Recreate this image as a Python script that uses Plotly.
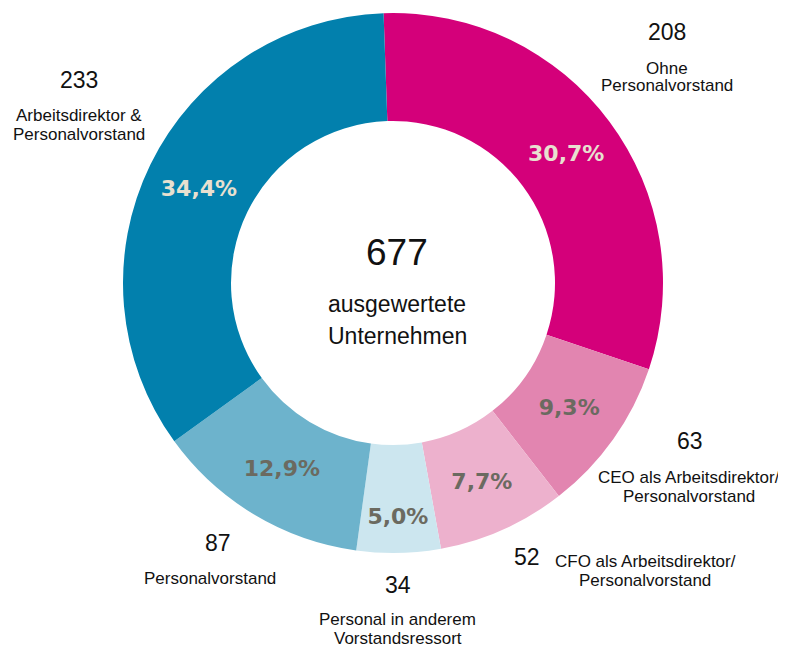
import plotly.graph_objects as go

# ---- data ----
categories = [
    "Ohne Personalvorstand",
    "CEO als Arbeitsdirektor/Personalvorstand",
    "CFO als Arbeitsdirektor/Personalvorstand",
    "Personal in anderem Vorstandsressort",
    "Personalvorstand",
    "Arbeitsdirektor & Personalvorstand",
]
counts = [208, 63, 52, 34, 87, 233]
label_lines = [
    ["Ohne", "Personalvorstand"],
    ["CEO als Arbeitsdirektor/", "Personalvorstand"],
    ["CFO als Arbeitsdirektor/", "Personalvorstand"],
    ["Personal in anderem", "Vorstandsressort"],
    ["Personalvorstand"],
    ["Arbeitsdirektor &", "Personalvorstand"],
]
total_label = ["ausgewertete", "Unternehmen"]

# ---- styles ----
colors = ["#D4007A", "#E285B0", "#EDB1CD", "#CCE6EF", "#6DB3CC", "#0280AD"]
text_colors = ["#E8E0D0", "#6B6A60", "#6B6A60", "#6B6A60", "#6B6A60", "#E8E0D0"]

# page body has an 8px margin; compensate so the picture lands like the reference
OFF = 8
W, H = 786 - OFF, 646 - OFF
cx, cy, R = 393, 283, 270

# annotation positions in window pixels: number pos, and (x, ys) of text lines
num_pos = [(667, 32), (690, 441), (527, 557), (398, 585), (218, 543), (79, 80)]
line_pos = [
    (667, [68, 86]),
    (689, [477, 496]),
    (645, [561, 580]),
    (398, [619, 638]),
    (210, [578]),
    (79, [115, 134]),
]

FONT = "Liberation Sans, Arial, sans-serif"


def px(x):
    return (x - OFF) / W


def py(y):
    return 1 - (y - OFF) / H


fig = go.Figure(
    go.Pie(
        labels=categories,
        values=counts,
        sort=False,
        direction="clockwise",
        rotation=-2,
        hole=0.6,
        marker=dict(colors=colors, line=dict(width=0)),
        texttemplate="%{percent:.1%}",
        textposition="inside",
        insidetextorientation="horizontal",
        textfont=dict(family="DejaVu Sans, sans-serif", size=22, color=text_colors, weight="bold"),
        hoverinfo="label+value+percent",
        showlegend=False,
        domain=dict(
            x=[px(cx - R), px(cx + R)],
            y=[py(cy + R), py(cy - R)],
        ),
    )
)

annots = []
total = sum(counts)
annots.append(dict(x=px(397), y=py(252), text=str(total), font=dict(size=37, color="#111111", family=FONT)))
annots.append(dict(x=px(397), y=py(304), text=total_label[0], font=dict(size=23, color="#111111", family=FONT)))
annots.append(dict(x=px(397), y=py(336), text=total_label[1], font=dict(size=23, color="#111111", family=FONT)))

for i, c in enumerate(counts):
    nx, ny = num_pos[i]
    annots.append(dict(x=px(nx), y=py(ny), text=str(c), font=dict(size=23, color="#111111", family=FONT)))
    lx, lys = line_pos[i]
    for line, ly in zip(label_lines[i], lys):
        annots.append(dict(x=px(lx), y=py(ly), text=line, font=dict(size=17, color="#111111", family=FONT)))

for a in annots:
    a.update(xref="paper", yref="paper", showarrow=False, xanchor="center", yanchor="middle")

fig.update_layout(
    width=W,
    height=H,
    margin=dict(l=0, r=0, t=0, b=0),
    paper_bgcolor="white",
    plot_bgcolor="white",
    separators=",.",
    annotations=annots,
    uniformtext=dict(minsize=22, mode="show"),
)

fig.write_html("out.html")
